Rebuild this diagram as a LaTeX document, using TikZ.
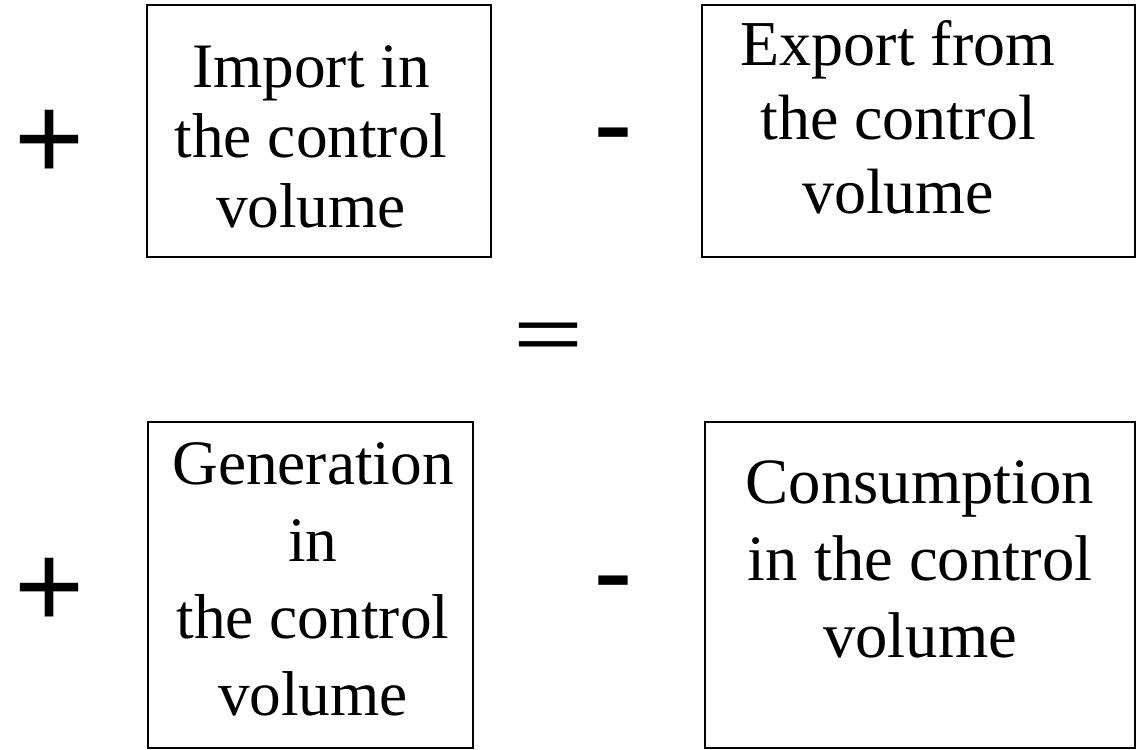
\documentclass[tikz,border=0pt]{standalone}
\usepackage{fontspec}
\usepackage{graphicx}
\setmainfont{Liberation Serif}
\newfontfamily\symfont{Liberation Sans}
\begin{document}
\begin{tikzpicture}[x=0.75pt,y=-0.75pt,
  boxst/.style={draw,line width=1.1pt,rectangle,inner sep=0pt},
  txt/.style={align=center,inner sep=0pt,anchor=base},
  opsym/.style={inner sep=0pt,anchor=base,font=\symfont\fontsize{90}{90}\selectfont}]
\path[use as bounding box] (0,0) rectangle (1137,749);
% boxes
\node[boxst,minimum width=344*0.75pt,minimum height=252*0.75pt] (b1) at (319,131) {};
\node[boxst,minimum width=433*0.75pt,minimum height=252*0.75pt] (b2) at (918.5,131) {};
\node[boxst,minimum width=325*0.75pt,minimum height=326*0.75pt] (b3) at (310.5,585) {};
\node[boxst,minimum width=430*0.75pt,minimum height=326*0.75pt] (b4) at (920,585) {};
% texts (placed at the baseline of the last line)
\node[txt,font=\fontsize{47.5}{52.5}\selectfont] (t1) at (311,227) {Import in\\the control\\volume};
\node[txt,font=\fontsize{48}{55.5}\selectfont] (t2) at (898,213) {Export from\\the control\\volume};
\node[txt,font=\fontsize{47.5}{57.7}\selectfont] (t3) at (313,715) {Generation\\in\\the control\\volume};
\node[txt,font=\fontsize{48.5}{57.4}\selectfont] (t4) at (920,657) {Consumption\\in the control\\volume};
% operators
\node[opsym] (p1) at (50,179) {+};
\node[opsym] (m1) at (613,164) {-};
\node[opsym] (eq) at (549,359) {\scalebox{1}[0.62]{=}};
\node[opsym] (p2) at (50,627) {+};
\node[opsym] (m2) at (613,612) {-};
\end{tikzpicture}
\end{document}
